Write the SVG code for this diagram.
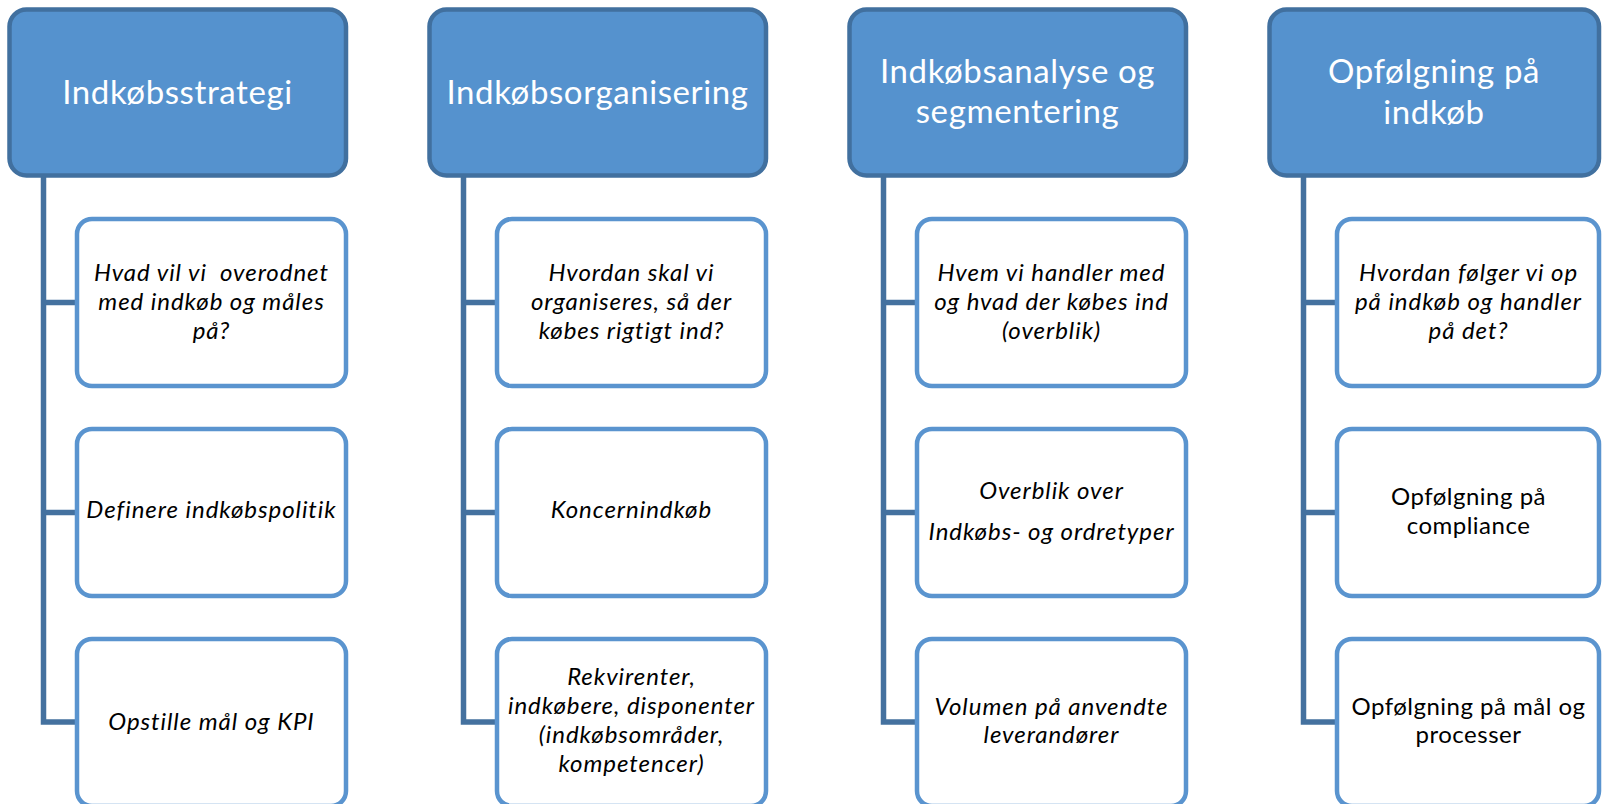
<svg xmlns="http://www.w3.org/2000/svg" width="1602" height="804" viewBox="0 0 1602 804">
  <style>
    .head { fill: #5592CE; stroke: #41709F; stroke-width: 4.5; }
    .item { fill: #FFFFFF; stroke: #5A94CF; stroke-width: 4.5; }
    .link { fill: none; stroke: #44719F; stroke-width: 5.5; stroke-linejoin: miter; }
    .ht { font-family: Lato, "Open Sans", "Liberation Sans", sans-serif; font-size: 33px; fill: #FFFFFF; text-anchor: middle; letter-spacing: 0.6px; }
    .it { font-family: Lato, "Open Sans", "Liberation Sans", sans-serif; font-size: 24px; fill: #000000; text-anchor: middle; font-style: italic; letter-spacing: 0.95px; }
    .nt { font-family: Lato, "Open Sans", "Liberation Sans", sans-serif; font-size: 24px; fill: #000000; text-anchor: middle; letter-spacing: 0.5px; }
  </style>

  <!-- connectors: one vertical spine per column with three branches -->
  <g id="connectors">
    <path class="link" d="M43.5,176 V722 H77 M43.5,302.5 H77 M43.5,512.5 H77"/>
    <path class="link" d="M463.5,176 V722 H497 M463.5,302.5 H497 M463.5,512.5 H497"/>
    <path class="link" d="M883.5,176 V722 H917 M883.5,302.5 H917 M883.5,512.5 H917"/>
    <path class="link" d="M1303.5,176 V722 H1337 M1303.5,302.5 H1337 M1303.5,512.5 H1337"/>
  </g>

  <!-- column 1 -->
  <g id="strategi">
    <rect class="head" x="9.5" y="9.5" width="336.5" height="166" rx="17"/>
    <text class="ht" x="177.5" y="104">Indkøbsstrategi</text>
  </g>
  <g id="strategi-1">
    <rect class="item" x="77" y="219" width="269" height="167" rx="15"/>
    <text class="it" x="211.5" y="281">Hvad vil vi&#160; overodnet</text>
    <text class="it" x="211.5" y="310">med indkøb og måles</text>
    <text class="it" x="211.5" y="339">på?</text>
  </g>
  <g id="strategi-2">
    <rect class="item" x="77" y="429" width="269" height="167" rx="15"/>
    <text class="it" x="211.5" y="518">Definere indkøbspolitik</text>
  </g>
  <g id="strategi-3">
    <rect class="item" x="77" y="639" width="269" height="167" rx="15"/>
    <text class="it" x="211.5" y="730">Opstille mål og KPI</text>
  </g>

  <!-- column 2 -->
  <g id="organisering">
    <rect class="head" x="429.5" y="9.5" width="336.5" height="166" rx="17"/>
    <text class="ht" x="597.5" y="104">Indkøbsorganisering</text>
  </g>
  <g id="organisering-1">
    <rect class="item" x="497" y="219" width="269" height="167" rx="15"/>
    <text class="it" x="631.5" y="281">Hvordan skal vi</text>
    <text class="it" x="631.5" y="310">organiseres, så der</text>
    <text class="it" x="631.5" y="339">købes rigtigt ind?</text>
  </g>
  <g id="organisering-2">
    <rect class="item" x="497" y="429" width="269" height="167" rx="15"/>
    <text class="it" x="631.5" y="518">Koncernindkøb</text>
  </g>
  <g id="organisering-3">
    <rect class="item" x="497" y="639" width="269" height="167" rx="15"/>
    <text class="it" x="631.5" y="685">Rekvirenter,</text>
    <text class="it" x="631.5" y="714">indkøbere, disponenter</text>
    <text class="it" x="631.5" y="743">(indkøbsområder,</text>
    <text class="it" x="631.5" y="772">kompetencer)</text>
  </g>

  <!-- column 3 -->
  <g id="analyse">
    <rect class="head" x="849.5" y="9.5" width="336.5" height="166" rx="17"/>
    <text class="ht" x="1017.5" y="83">Indkøbsanalyse og</text>
    <text class="ht" x="1017.5" y="123">segmentering</text>
  </g>
  <g id="analyse-1">
    <rect class="item" x="917" y="219" width="269" height="167" rx="15"/>
    <text class="it" x="1051.5" y="281">Hvem vi handler med</text>
    <text class="it" x="1051.5" y="310">og hvad der købes ind</text>
    <text class="it" x="1051.5" y="339">(overblik)</text>
  </g>
  <g id="analyse-2">
    <rect class="item" x="917" y="429" width="269" height="167" rx="15"/>
    <text class="it" x="1051.5" y="499">Overblik over</text>
    <text class="it" x="1051.5" y="540">Indkøbs- og ordretyper</text>
  </g>
  <g id="analyse-3">
    <rect class="item" x="917" y="639" width="269" height="167" rx="15"/>
    <text class="it" x="1051.5" y="715">Volumen på anvendte</text>
    <text class="it" x="1051.5" y="743">leverandører</text>
  </g>

  <!-- column 4 -->
  <g id="opfoelgning">
    <rect class="head" x="1269.5" y="9.5" width="329.5" height="166" rx="17"/>
    <text class="ht" x="1434" y="83">Opfølgning på</text>
    <text class="ht" x="1434" y="124">indkøb</text>
  </g>
  <g id="opfoelgning-1">
    <rect class="item" x="1337" y="219" width="262" height="167" rx="15"/>
    <text class="it" x="1468.5" y="281">Hvordan følger vi op</text>
    <text class="it" x="1468.5" y="310">på indkøb og handler</text>
    <text class="it" x="1468.5" y="339">på det?</text>
  </g>
  <g id="opfoelgning-2">
    <rect class="item" x="1337" y="429" width="262" height="167" rx="15"/>
    <text class="nt" x="1468.5" y="505">Opfølgning på</text>
    <text class="nt" x="1468.5" y="534">compliance</text>
  </g>
  <g id="opfoelgning-3">
    <rect class="item" x="1337" y="639" width="262" height="167" rx="15"/>
    <text class="nt" x="1468.5" y="715">Opfølgning på mål og</text>
    <text class="nt" x="1468.5" y="743">processer</text>
  </g>
</svg>
